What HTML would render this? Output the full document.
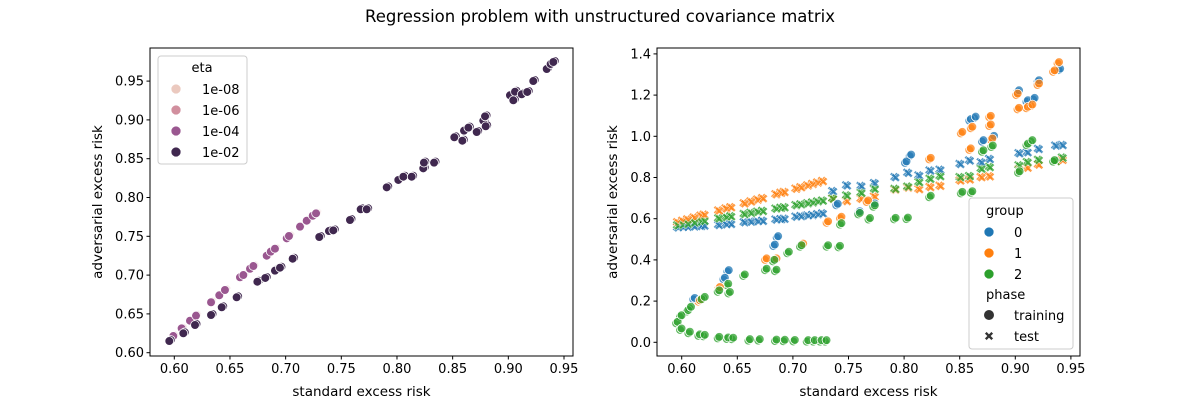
<!DOCTYPE html>
<html><head><meta charset="utf-8"><style>
body{margin:0;background:#fff;font-family:"Liberation Sans","DejaVu Sans",sans-serif}
svg text{font-family:"DejaVu Sans","Liberation Sans",sans-serif;fill:#000}
</style></head><body>
<svg id="fig" width="1200" height="400" xmlns="http://www.w3.org/2000/svg">
<text x="600" y="22" text-anchor="middle" font-size="16.5">Regression problem with unstructured covariance matrix</text>
<g id="L"></g>
<g id="R"></g>
</svg>
<script>
// ---- left chart data ----
const leftDarkX=[.5955,.6081,.6186,.633,.6426,.656,.6746,.6817,.6904,.6949,.7063,.7302,.7389,.7428,.7578,.7674,.7728,.7908,.8012,.8057,.8132,.8236,.8242,.8333,.8515,.8587,.8602,.8641,.8716,.8775,.8791,.8797,.9015,.9045,.906,.912,.917,.9224,.9345,.938,.9404];
const leftDarkY=[.615,.625,.6357,.6486,.6585,.6714,.6915,.6963,.7057,.7095,.7211,.7491,.7568,.7577,.771,.7848,.7848,.8131,.8226,.8268,.8268,.8376,.8449,.8449,.8776,.8732,.8861,.89,.8844,.899,.9046,.8918,.9317,.9253,.9363,.933,.936,.9501,.9656,.972,.9746];
const leftMidX=[.5955,.5991,.6066,.6141,.6195,.633,.6404,.6455,.659,.662,.668,.671,.683,.6866,.6904,.701,.703,.7129,.7189,.7243,.7273];
const leftMidY=[.615,.6215,.6314,.6412,.6477,.665,.674,.6808,.6972,.7001,.7082,.7117,.725,.7302,.734,.7474,.7504,.7624,.7701,.7765,.7796];
const leftTicksX=[0.60,0.65,0.70,0.75,0.80,0.85,0.90,0.95];
const leftTicksY=[0.60,0.65,0.70,0.75,0.80,0.85,0.90,0.95];
const etaLabels=["1e-08","1e-06","1e-04","1e-02"];
const etaColors=["#ebc9bf","#d18f9e","#9a5790","#40284f"];
// ---- right chart data ----
const testX=[.5955,.6,.6045,.6104,.6165,.6194,.6324,.639,.6434,.6554,.6614,.6674,.672,.6839,.6884,.6914,.7019,.7064,.7124,.7169,.7214,.7259];
const testOrangeY=[.585,.592,.599,.608,.617,.622,.642,.652,.658,.677,.686,.695,.702,.721,.728,.732,.748,.755,.764,.771,.778,.785];
const testGreenY=[.570,.574,.578,.584,.589,.592,.604,.610,.614,.625,.631,.636,.640,.651,.655,.658,.668,.672,.677,.681,.686,.690];
const testBlueY=[.560,.562,.563,.565,.567,.569,.572,.575,.577,.585,.588,.590,.592,.598,.600,.602,.612,.615,.618,.620,.624,.628];
const testX2=[.735,.7475,.7605,.7725,.791,.8025,.8125,.8225,.8315,.8495,.858,.8685,.876,.9025,.91,.92,.9355,.9415];
const testBlueY2=[.736,.764,.761,.775,.804,.825,.812,.836,.84,.868,.885,.876,.892,.92,.925,.941,.957,.96];
const testOrangeY2=[.699,.688,.699,.71,.743,.753,.746,.756,.762,.788,.793,.804,.808,.842,.85,.865,.882,.888];
const testGreenY2=[.70,.715,.728,.747,.747,.758,.78,.796,.809,.804,.809,.845,.853,.861,.877,.888,.882,.899];
const trBlueX=[.6104,.6375,.641,.6824,.6854,.739,.7588,.7723,.8008,.805,.8586,.863,.87,.8795,.902,.91,.916,.92,.939];
const trBlueY=[.208,.306,.343,.467,.508,.665,.629,.667,.871,.904,1.076,1.088,.974,.995,1.216,1.168,1.179,1.265,1.321];
const trOrangeX=[.615,.633,.675,.6839,.7079,.7303,.7423,.7663,.8226,.851,.8586,.86,.8766,.8766,.878,.9008,.902,.91,.914,.92,.934,.938];
const trOrangeY=[.197,.261,.4,.4,.472,.58,.602,.681,.888,1.014,.934,1.039,1.092,1.05,.982,1.2,1.131,1.136,1.147,1.249,1.313,1.353];
const trGreenX=[.595,.5985,.606,.615,.6194,.6324,.6405,.645,.66,.6689,.6839,.6914,.7004,.7124,.7183,.7244,.7289,
  .5985,.6045,.607,.6165,.6194,.6324,.6405,.642,.6554,.675,.6839,.682,.695,.7064,.7303,.741,.7423,.7588,.768,.7723,.791,.8021,.8226,.851,.86,.87,.8784,.9025,.91,.914,.934];
const trGreenY=[.092,.06,.044,.031,.029,.019,.016,.015,.008,.008,.006,.005,.004,.003,.003,.003,.003,
  .124,.149,.165,.202,.213,.245,.277,.237,.322,.35,.345,.393,.432,.464,.464,.461,.571,.621,.596,.658,.597,.598,.704,.723,.726,.925,.948,.823,.957,.974,.877];
const rightTicksX=[0.60,0.65,0.70,0.75,0.80,0.85,0.90,0.95];
const rightTicksY=[0.0,0.2,0.4,0.6,0.8,1.0,1.2,1.4];
const groupLabels=["0","1","2"];
const groupColors=["#1f77b4","#ff7f0e","#2ca02c"];

const NS="http://www.w3.org/2000/svg";
function mk(tag,attrs,parent){const e=document.createElementNS(NS,tag);for(const k in attrs)e.setAttribute(k,attrs[k]);parent.appendChild(e);return e;}
const L=document.getElementById('L'),R=document.getElementById('R');
const lx=v=>174.3+(v-0.60)/0.05*55.67, ly=v=>352.7-(v-0.60)/0.05*38.8;
const rx=v=>681.7+(v-0.60)/0.05*55.6, ry=v=>342.3-v/0.2*41.2;

function circle(g,x,y,c,op){const e=mk('circle',{cx:x,cy:y,r:4.4,fill:c,'fill-opacity':op,stroke:'#fff','stroke-width':0.8},g);

return e;}
function xmark(g,x,y,c,op){const s=4.3,t=1.9;
const p=[[-s,-s+t],[-s+t,-s],[0,-t],[s-t,-s],[s,-s+t],[t,0],[s,s-t],[s-t,s],[0,t],[-s+t,s],[-s,s-t],[-t,0]].map(a=>(x+a[0])+','+(y+a[1])).join(' ');
const e=mk('polygon',{points:p,fill:c,'fill-opacity':op,stroke:'#fff','stroke-width':0.5},g);

return e;}

function axes(g,x0,x1,y0,y1,tx,ty,fx,fy,fmtx,fmty,xl,yl,ylx){
 const f=mk('rect',{x:x0,y:y0,width:x1-x0,height:y1-y0,fill:'none',stroke:'#000','stroke-width':1},g);
 
 tx.forEach(v=>{const X=fx(v);mk('line',{x1:X,x2:X,y1:y1,y2:y1+3.5,stroke:'#000'},g);
  const t=mk('text',{x:X,y:y1+17,'text-anchor':'middle','font-size':13},g);t.textContent=fmtx(v);
  });
 ty.forEach(v=>{const Y=fy(v);mk('line',{x1:x0-3.5,x2:x0,y1:Y,y2:Y,stroke:'#000'},g);
  const t=mk('text',{x:x0-6,y:Y+4.5,'text-anchor':'end','font-size':13},g);t.textContent=fmty(v);
  });
 const a=mk('text',{x:(x0+x1)/2,y:396,'text-anchor':'middle','font-size':13.5},g);a.textContent=xl;
 
 const b=mk('text',{x:ylx,y:202,'text-anchor':'middle','font-size':13.5,transform:`rotate(-90 ${ylx} 202)`},g);b.textContent=yl;
 
}
// LEFT
axes(L,150,573,48,356,leftTicksX,leftTicksY,lx,ly,v=>v.toFixed(2),v=>v.toFixed(2),'standard excess risk','adversarial excess risk',102);
leftMidX.forEach((v,i)=>{circle(L,lx(v)+1.5,ly(leftMidY[i])-1,etaColors[0],1);});
leftMidX.forEach((v,i)=>{circle(L,lx(v)+0.8,ly(leftMidY[i])-0.5,etaColors[1],1);});
leftMidX.forEach((v,i)=>{circle(L,lx(v),ly(leftMidY[i]),etaColors[2],1);});
leftDarkX.forEach((v,i)=>{circle(L,lx(v)+1.5,ly(leftDarkY[i])-1,etaColors[3],1);});
leftDarkX.forEach((v,i)=>{circle(L,lx(v),ly(leftDarkY[i]),etaColors[3],1);});
// left legend
const lg=mk('g',{},L);
mk('rect',{x:158,y:56,width:89,height:108,rx:3,fill:'#fff','fill-opacity':0.8,stroke:'#ccc'},lg);
let t=mk('text',{x:202,y:72,'text-anchor':'middle','font-size':13},lg);t.textContent='eta';
etaLabels.forEach((l,i)=>{const y=89+i*21;mk('circle',{cx:176,cy:y,r:5,fill:etaColors[i],stroke:'#fff','stroke-width':0.7},lg);
 const tt=mk('text',{x:202,y:y+5,'font-size':13},lg);tt.textContent=l;
 });
// RIGHT
axes(R,657,1080,48,356,rightTicksX,rightTicksY,rx,ry,v=>v.toFixed(2),v=>v.toFixed(1),'standard excess risk','adversarial excess risk',617);
[0,1.6].forEach(d=>{
testX.forEach((v,i)=>{xmark(R,rx(v)+d,ry(testBlueY[i])+d*0.6,groupColors[0],.75);xmark(R,rx(v)+d,ry(testOrangeY[i])+d*0.6,groupColors[1],.75);xmark(R,rx(v)+d,ry(testGreenY[i])+d*0.6,groupColors[2],.75);});
testX2.forEach((v,i)=>{xmark(R,rx(v)+d,ry(testBlueY2[i])+d*0.6,groupColors[0],.75);xmark(R,rx(v)+d,ry(testOrangeY2[i])+d*0.6,groupColors[1],.75);xmark(R,rx(v)+d,ry(testGreenY2[i])+d*0.6,groupColors[2],.75);});
});
[0,1.5].forEach(d=>{
trBlueX.forEach((v,i)=>circle(R,rx(v)+d,ry(trBlueY[i])-d,groupColors[0],.75));
trOrangeX.forEach((v,i)=>circle(R,rx(v)+d,ry(trOrangeY[i])-d,groupColors[1],.75));
trGreenX.forEach((v,i)=>circle(R,rx(v)+d,ry(trGreenY[i])-d,groupColors[2],.75));
});
// right legend
const rg=mk('g',{},R);
mk('rect',{x:969,y:198,width:104,height:151,rx:3,fill:'#fff','fill-opacity':0.8,stroke:'#ccc'},rg);
t=mk('text',{x:986,y:215,'font-size':13},rg);t.textContent='group';
groupLabels.forEach((l,i)=>{const y=232+i*21;mk('circle',{cx:989,cy:y,r:5,fill:groupColors[i],stroke:'#fff','stroke-width':0.7},rg);
 const tt=mk('text',{x:1014,y:y+5,'font-size':13},rg);tt.textContent=l;
 });
t=mk('text',{x:986,y:299,'font-size':13},rg);t.textContent='phase';
mk('circle',{cx:989,cy:315,r:5,fill:'#333'},rg);
t=mk('text',{x:1014,y:320,'font-size':13},rg);t.textContent='training';
xmark(rg,989,336,'#333',1);
t=mk('text',{x:1014,y:341,'font-size':13},rg);t.textContent='test';
</script>
</body></html>
